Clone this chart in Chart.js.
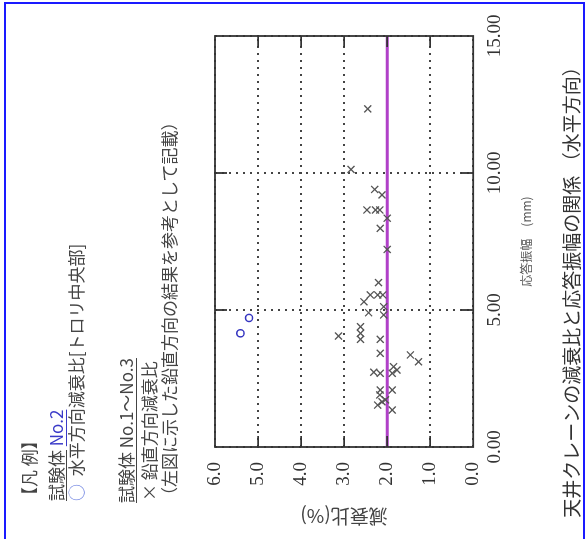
<!DOCTYPE html>
<html lang="ja">
<head>
<meta charset="utf-8">
<script src="https://cdn.jsdelivr.net/npm/chart.js@4"></script>
<style>
  html, body { margin: 0; padding: 0; background: #fff; }
  body { width: 588px; height: 539px; overflow: hidden; position: relative; }
  #frame { position: absolute; left: 4px; top: 2px; width: 577px; height: 560px; border: 2px solid #1a1aff; border-bottom: none; }
  /* the whole figure is turned a quarter turn to the left */
  #wrap { position: absolute; left: 0; top: 539px; width: 539px; height: 588px; transform-origin: 0 0; transform: rotate(-90deg); }
  #wrap canvas { position: absolute; left: 0; top: 0; }
  .lg { position: absolute; left: 38px; font: 17px/20px "Noto Sans CJK JP", sans-serif; color: #444; white-space: nowrap; }
  .ul { text-decoration: underline; text-underline-offset: 3px; }
  .blue { color: #3a3ac8; }
  .circ { color: #6a7fe0; margin-right: 4px; }
</style>
</head>
<body>
<div id="frame"></div>
<div id="wrap">
  <canvas id="chart" width="539" height="588"></canvas>
  <div class="lg" style="top:19px;left:35px">【凡 例】</div>
  <div class="lg" style="top:46px"><span class="ul">試験体</span> <span class="ul blue">No.2</span></div>
  <div class="lg" style="top:66px"><span class="circ">○</span> 水平方向減衰比[トロリ中央部]</div>
  <div class="lg ul" style="top:116px;left:36px">試験体 No.1～No.3</div>
  <div class="lg" style="top:139px">× 鉛直方向減衰比</div>
  <div class="lg" style="top:159px;left:35px">（左図に示した鉛直方向の結果を参考として記載）</div>
</div>
<script>
  // 応答振幅 (mm) と 減衰比 (%)
  const ampCross = [12.34, 10.13, 9.40, 9.20, 8.65, 8.65, 8.65, 8.35, 7.98, 7.21,
    6.00, 5.55, 5.55, 5.55, 5.30, 5.12, 4.90, 4.82, 4.05, 4.39,
    4.15, 3.93, 3.93, 3.42, 3.36, 3.11, 2.93, 2.81, 2.69, 2.73,
    2.69, 2.08, 1.90, 1.65, 1.53, 2.08, 1.35, 1.72];
  const dampCross = [2.45, 2.84, 2.29, 2.12, 2.47, 2.27, 2.17, 2.00, 2.16, 2.00,
    2.20, 2.39, 2.22, 2.10, 2.54, 2.08, 2.43, 2.08, 3.13, 2.62,
    2.62, 2.62, 2.16, 2.16, 1.46, 1.27, 1.85, 1.77, 1.88, 2.31,
    2.16, 2.16, 2.17, 2.12, 2.22, 1.88, 1.88, 2.04];
  const ampCircle = [4.71, 4.15];
  const dampCircle = [5.21, 5.41];
  const refAmp = [0, 15];
  const refDamp = [2.0, 2.0];

  const toPts = (xs, ys) => xs.map((x, i) => ({ x: x, y: ys[i] }));

  const ink = '#333';
  const tickFont = { family: '"Liberation Serif", serif', size: 19 };

  // 枠線と内向きの目盛り
  const frameBox = {
    id: 'frameBox',
    afterDraw(chart) {
      const { ctx, chartArea: a, scales } = chart;
      ctx.save();
      ctx.strokeStyle = ink;
      ctx.lineWidth = 1.8;
      ctx.strokeRect(a.left, a.top, a.right - a.left, a.bottom - a.top);
      ctx.beginPath();
      [1, 2, 3, 4, 5].forEach(v => {
        const y = scales.y.getPixelForValue(v);
        ctx.moveTo(a.left, y); ctx.lineTo(a.left + 11, y);
        ctx.moveTo(a.right, y); ctx.lineTo(a.right - 11, y);
      });
      [5, 10].forEach(v => {
        const x = scales.x.getPixelForValue(v);
        ctx.moveTo(x, a.bottom); ctx.lineTo(x, a.bottom - 12);
        ctx.moveTo(x, a.top); ctx.lineTo(x, a.top + 12);
      });
      ctx.stroke();
      ctx.restore();
    }
  };

  new Chart(document.getElementById('chart'), {
    type: 'scatter',
    data: {
      datasets: [
        {
          label: '水平方向減衰比',
          data: toPts(ampCircle, dampCircle),
          pointStyle: 'circle', pointRadius: 3.6, borderWidth: 1.5,
          borderColor: '#3535c0', backgroundColor: 'rgba(0,0,0,0)', order: 1
        },
        {
          label: '鉛直方向減衰比',
          data: toPts(ampCross, dampCross),
          pointStyle: 'crossRot', pointRadius: 5, borderWidth: 1.3,
          borderColor: '#555', order: 1
        },
        {
          type: 'line',
          label: '2.0%',
          data: toPts(refAmp, refDamp),
          borderColor: '#b040c8', borderWidth: 3, pointRadius: 0, order: 3
        }
      ]
    },
    options: {
      responsive: false,
      animation: false,
      layout: { padding: { top: 215, right: 36, left: 0, bottom: 0 } },
      plugins: {
        legend: { display: false },
        tooltip: { enabled: false },
        title: {
          display: true,
          position: 'bottom',
          text: '天井クレーンの減衰比と応答振幅の関係 （水平方向）',
          color: ink,
          font: { family: '"Noto Sans CJK JP", sans-serif', size: 19, weight: 'normal' },
          padding: { top: 0, bottom: 5 }
        }
      },
      scales: {
        x: {
          type: 'linear', min: 0, max: 15,
          ticks: { stepSize: 5, color: ink, font: tickFont, padding: 10, maxRotation: 0,
                   callback: v => v.toFixed(2) },
          grid: { color: '#444', lineWidth: 2, drawTicks: false },
          border: { display: false, dash: [2, 5] },
          title: { display: true, text: '応答振幅　(mm)', color: '#555',
                   font: { family: '"Noto Sans CJK JP", sans-serif', size: 12 },
                   padding: { top: 4, bottom: 27 } },
          afterFit: s => { s.height = 87; }
        },
        y: {
          type: 'linear', min: 0, max: 6,
          ticks: { stepSize: 1, color: ink, font: tickFont, padding: 15,
                   callback: v => v.toFixed(1) },
          grid: { color: '#444', lineWidth: 2, drawTicks: false },
          border: { display: false, dash: [2, 5] },
          title: { display: true, text: '減衰比(%)', color: '#444',
                   font: { family: '"Noto Sans CJK JP", sans-serif', size: 19 },
                   padding: { top: 11, bottom: 0 } },
          afterFit: s => { s.width = 92; }
        }
      }
    },
    plugins: [frameBox]
  });
</script>
</body>
</html>
